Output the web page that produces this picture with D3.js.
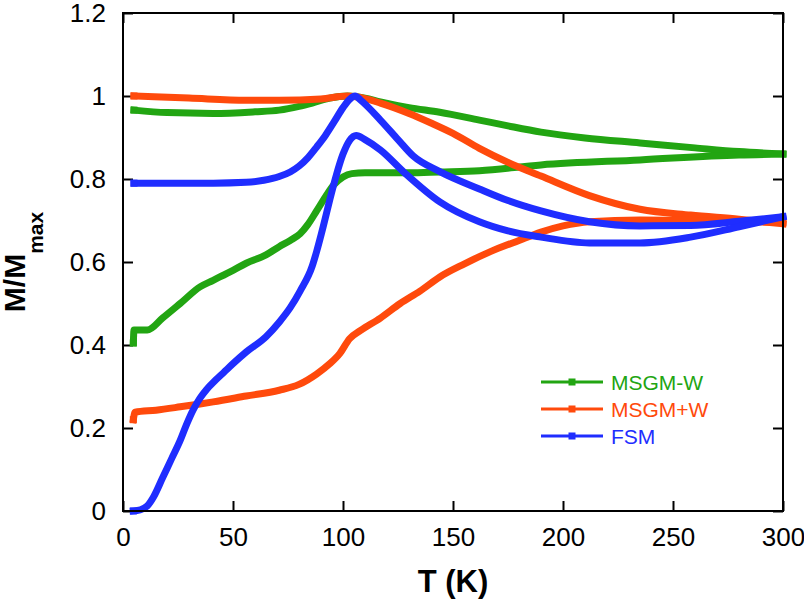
<!DOCTYPE html>
<html>
<head>
<meta charset="utf-8">
<script src="https://cdn.jsdelivr.net/npm/d3@7"></script>
<style>
  html, body { margin: 0; padding: 0; background: #fff; }
  svg { display: block; }
  text { font-family: "Liberation Sans", Arial, Helvetica, sans-serif; }
</style>
</head>
<body>
<svg id="chart" width="804" height="599"></svg>
<script>
// ---- data (T in K, M/Mmax) ----
const seriesNames = ["MSGM-W", "MSGM+W", "FSM"];
const seriesColors = ["#22a512", "#ff4a0c", "#1f2dff"];

const greenFC = [[5,0.966],[20,0.96],[41,0.958],[60,0.962],[71,0.966],[80,0.975],[86,0.983],[94,0.995],[102,1.0],[110,0.995],[117,0.986],[130,0.972],[144,0.961],[162,0.942],[175,0.928],[190,0.913],[210,0.899],[235,0.887],[260,0.875],[280,0.866],[300,0.86]];
const greenZFC = [[4.7,0.405],[5,0.436],[11,0.436],[18,0.465],[26,0.50],[35,0.54],[41,0.556],[50,0.58],[56,0.597],[65,0.617],[71,0.637],[76,0.652],[80.5,0.668],[84,0.69],[88,0.723],[92,0.757],[96,0.787],[100,0.805],[104,0.813],[110,0.815],[130,0.815],[144,0.817],[162,0.82],[190,0.834],[235,0.846],[280,0.858],[300,0.86]];

const orangeFC = [[5,1.0],[30,0.995],[56,0.99],[71,0.99],[90,0.993],[102,1.0],[106,0.998],[117,0.983],[130,0.958],[140,0.935],[150,0.91],[162,0.874],[175,0.84],[190,0.807],[212,0.76],[235,0.727],[258,0.713],[280,0.703],[300,0.692]];
const orangeZFC = [[4.7,0.22],[5.5,0.238],[15,0.243],[26,0.251],[35,0.258],[41,0.263],[56,0.277],[71,0.291],[80,0.305],[88,0.33],[94,0.355],[98.6,0.38],[103,0.415],[108,0.435],[117,0.465],[126,0.50],[135,0.53],[144,0.564],[155,0.595],[167,0.625],[180,0.652],[190,0.672],[200,0.687],[212,0.697],[235,0.701],[260,0.70],[280,0.698],[300,0.695]];

const blueFC = [[5,0.79],[41,0.79],[56,0.792],[64,0.797],[71,0.806],[76,0.817],[80,0.831],[84,0.851],[88,0.877],[92,0.905],[96,0.938],[100,0.972],[103,0.992],[105.5,1.0],[108,0.99],[117,0.942],[125,0.895],[132,0.855],[144,0.818],[162,0.776],[175,0.748],[190,0.723],[212,0.697],[235,0.687],[258,0.688],[280,0.698],[300,0.709]];
const blueZFC = [[4.7,0.0],[8,0.003],[11,0.012],[14,0.035],[18,0.08],[22,0.125],[26,0.17],[29,0.21],[32,0.245],[35,0.272],[38,0.293],[42,0.315],[46,0.335],[50,0.355],[56,0.383],[65,0.42],[71,0.455],[76,0.49],[80.5,0.53],[86,0.59],[88,0.625],[91,0.685],[94,0.75],[97,0.81],[100,0.86],[103,0.893],[106,0.905],[110,0.895],[117,0.87],[128,0.815],[144,0.745],[162,0.697],[175,0.675],[190,0.66],[212,0.646],[235,0.646],[258,0.66],[280,0.685],[300,0.709]];

const seriesBranches = [[greenFC, greenZFC], [orangeFC, orangeZFC], [blueFC, blueZFC]];

const xTicks = [0, 50, 100, 150, 200, 250, 300];
const yTicks = [0, 0.2, 0.4, 0.6, 0.8, 1, 1.2];

// ---- layout ----
const svg = d3.select("#chart");
const L = 123, R = 783, T = 13, B = 511;
const x = d3.scaleLinear().domain([0, 300]).range([L, R]);
const y = d3.scaleLinear().domain([0, 1.2]).range([B, T]);

const fmt = d => (d === 0 ? "0" : d3.format("~g")(d));

// ---- axes ----
function styleAxis(g) {
  g.select(".domain").remove();
  g.selectAll(".tick line").attr("stroke", "#000").attr("stroke-width", 2);
  g.selectAll("text").attr("font-size", 26).attr("fill", "#000");
}

svg.append("g").attr("transform", `translate(0,${B})`)
  .call(d3.axisBottom(x).tickValues(xTicks).tickFormat(fmt).tickSizeInner(-10).tickSizeOuter(0).tickPadding(17))
  .call(styleAxis);
svg.append("g").attr("transform", `translate(0,${T})`)
  .call(d3.axisTop(x).tickValues(xTicks).tickFormat("").tickSizeInner(-10).tickSizeOuter(0))
  .call(styleAxis);
svg.append("g").attr("transform", `translate(${L},0)`)
  .call(d3.axisLeft(y).tickValues(yTicks).tickFormat(fmt).tickSizeInner(-10).tickSizeOuter(0).tickPadding(17))
  .call(styleAxis);
svg.append("g").attr("transform", `translate(${R},0)`)
  .call(d3.axisRight(y).tickValues(yTicks).tickFormat("").tickSizeInner(-10).tickSizeOuter(0))
  .call(styleAxis);

// ---- curves ----
const line = d3.line().x(d => x(d[0])).y(d => y(d[1])).curve(d3.curveMonotoneX);
const plot = svg.append("g");
seriesBranches.forEach((branches, i) => {
  branches.forEach(data => {
    plot.append("path").datum(data)
      .attr("d", line)
      .attr("fill", "none")
      .attr("stroke", seriesColors[i])
      .attr("stroke-width", 7)
      .attr("stroke-linejoin", "round")
      .attr("stroke-linecap", "square");
    // square marker at the first point of each branch
    plot.append("rect").datum(data[0])
      .attr("x", d => x(d[0]) - 3.5).attr("y", d => y(d[1]) - 3.5)
      .attr("width", 7).attr("height", 7)
      .attr("fill", seriesColors[i]);
  });
});

// frame
svg.append("rect").attr("x", L).attr("y", T).attr("width", R - L).attr("height", B - T)
  .attr("fill", "none").attr("stroke", "#000").attr("stroke-width", 2);

// ---- legend ----
const lg = svg.append("g");
seriesNames.forEach((name, i) => {
  const ly = 382 + i * 27;
  lg.append("line").attr("x1", 541).attr("x2", 603).attr("y1", ly).attr("y2", ly)
    .attr("stroke", seriesColors[i]).attr("stroke-width", 3);
  lg.append("rect").attr("x", 572 - 3.5).attr("y", ly - 3.5).attr("width", 7).attr("height", 7)
    .attr("fill", seriesColors[i]);
  lg.append("text").attr("x", 611).attr("y", ly).attr("dy", "0.36em")
    .attr("font-size", 21).attr("fill", seriesColors[i]).text(name);
});

// ---- axis titles ----
svg.append("text").attr("x", (L + R) / 2).attr("y", 592)
  .attr("text-anchor", "middle").attr("font-size", 31).attr("font-weight", "bold")
  .text("T (K)");

const yl = svg.append("text")
  .attr("transform", `translate(25,${(T + B) / 2}) rotate(-90)`)
  .attr("text-anchor", "middle").attr("font-weight", "bold").attr("font-size", 30);
yl.append("tspan").text("M/M");
yl.append("tspan").attr("font-size", 21).attr("dy", 18).text("max");
</script>
</body>
</html>
